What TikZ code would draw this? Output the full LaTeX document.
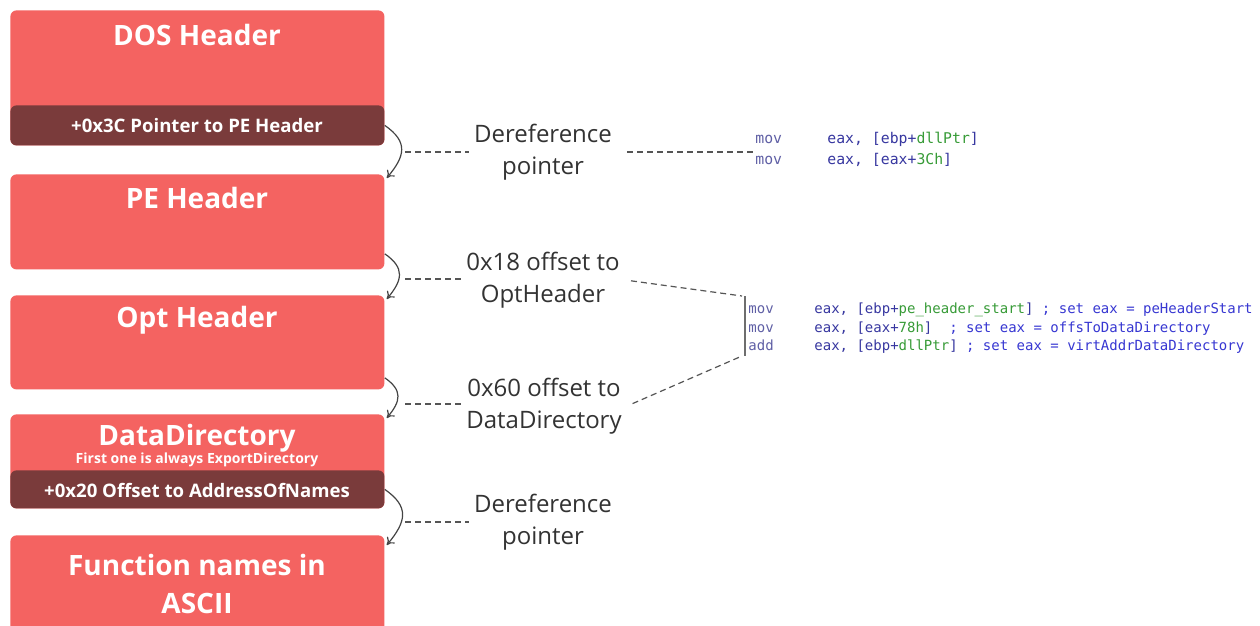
\documentclass[tikz,border=0pt]{standalone}
\usepackage{fontspec}
\setmainfont{Open Sans}
\newfontfamily\codefont{DejaVu Sans Mono}
\usetikzlibrary{arrows.meta}
\definecolor{boxred}{RGB}{244,99,97}
\definecolor{banddark}{RGB}{122,59,59}
\definecolor{lbltext}{RGB}{51,51,51}
\definecolor{dashgray}{RGB}{85,85,85}
\definecolor{arrgray}{RGB}{68,68,68}
\definecolor{mnem}{RGB}{95,95,165}
\definecolor{oper}{RGB}{55,55,160}
\definecolor{gname}{RGB}{55,155,55}
\definecolor{cmt}{RGB}{55,55,210}
\definecolor{barc}{RGB}{110,110,110}
\begin{document}
\begin{tikzpicture}[x=0.5pt,y=-0.5pt,
  redbox/.style={fill=boxred,rounded corners=3pt,anchor=north west,minimum width=187pt,inner sep=0pt,draw=none},
  bandbox/.style={fill=banddark,rounded corners=3pt,anchor=north west,minimum width=187pt,inner sep=0pt,draw=none},
  title/.style={text=white,font=\bfseries\fontsize{14}{19}\selectfont,anchor=base,inner sep=0pt},
  bandtext/.style={text=white,font=\bfseries\fontsize{9.3}{11}\selectfont,anchor=base,inner sep=0pt},
  lbl/.style={text=lbltext,font=\fontsize{12}{16.2}\selectfont,align=center,inner xsep=2.5pt,inner ysep=0pt},
  dashline/.style={draw=dashgray,line width=0.6pt,dash pattern=on 3pt off 2pt},
  curvearrow/.style={draw=arrgray,line width=0.6pt,-{To[length=3.5pt,width=5pt]}},
  codeline/.style={anchor=base west,inner sep=0pt}
]
\path[clip] (0,0) rectangle (1260,626);
\fill[white] (0,0) rectangle (1260,626);

% boxes
\node[redbox,minimum height=67.5pt] (dos) at (10,10) {};
\node[bandbox,minimum height=20pt] (dosband) at (10,105) {};
\node[redbox,minimum height=47.5pt] (pe) at (10,174) {};
\node[redbox,minimum height=47pt] (opt) at (10,295) {};
\node[redbox,minimum height=47pt] (dd) at (10,414) {};
\node[bandbox,minimum height=19pt] (ddband) at (10,470) {};
\node[redbox,minimum height=55pt] (fn) at (10,535) {};

% box texts
\node[title] (dost) at (197,46) {DOS Header};
\node[bandtext] (dosbt) at (197,133) {+0x3C Pointer to PE Header};
\node[title] (pet) at (197,209) {PE Header};
\node[title] (optt) at (197,328) {Opt Header};
\node[title] (ddt) at (197,445) {DataDirectory};
\node[text=white,font=\bfseries\fontsize{7}{8}\selectfont,anchor=base,inner sep=0pt] (ddsub) at (197,463) {First one is always ExportDirectory};
\node[bandtext] (ddbt) at (197,497) {+0x20 Offset to AddressOfNames};
\node[text=white,font=\bfseries\fontsize{14}{19}\selectfont,align=center,inner sep=0pt] (fnt) at (197,584) {Function names in\\ASCII};

% curved arrows
\draw[curvearrow] (dosband.east) to[out=-35,in=50,looseness=1.4] ([xshift=1pt,yshift=-2pt]pe.north east);
\draw[curvearrow] ([yshift=8pt]pe.south east) to[out=-35,in=50,looseness=1.4] ([xshift=1pt,yshift=-2pt]opt.north east);
\draw[curvearrow] ([yshift=6pt]opt.south east) to[out=-35,in=50,looseness=1.4] ([xshift=1pt,yshift=-2pt]dd.north east);
\draw[curvearrow] (ddband.east) to[out=-35,in=50,looseness=1.4] ([xshift=1pt,yshift=-5pt]fn.north east);

% labels
\node[lbl] (l1) at (543,152) {Dereference\\pointer};
\node[lbl] (l2) at (543,280) {0x18 offset to\\OptHeader};
\node[lbl] (l3) at (544,406) {0x60 offset to\\DataDirectory};
\node[lbl] (l4) at (543,522) {Dereference\\pointer};

\coordinate (a1) at (405,152);
\coordinate (a2) at (405,279);
\coordinate (a3) at (405,404);
\coordinate (a4) at (405,522);
\draw[dashline] (a1) -- (a1 -| l1.west);
\draw[dashline] (a2) -- (a2 -| l2.west);
\draw[dashline] (a3) -- (a3 -| l3.west);
\draw[dashline] (a4) -- (a4 -| l4.west);

% code block 1
\node[codeline,font=\codefont\fontsize{7.4}{10.5}\selectfont] (code1) at (755,144) {%
\begin{tabular}[t]{@{}l@{}}
\makebox[36pt][l]{\textcolor{mnem}{mov}}\textcolor{oper}{eax, [ebp+}\textcolor{gname}{dllPtr}\textcolor{oper}{]}\\
\makebox[36pt][l]{\textcolor{mnem}{mov}}\textcolor{oper}{eax, [eax+}\textcolor{gname}{3Ch}\textcolor{oper}{]}
\end{tabular}};

% code block 2
\coordinate (bartop) at (745,296);
\coordinate (barbot) at (745,356);
\draw[barc,line width=1pt] (bartop) -- (barbot);
\node[codeline,font=\codefont\fontsize{7}{9.25}\selectfont] (code2) at (748,314) {%
\begin{tabular}[t]{@{}l@{}}
\makebox[33pt][l]{\textcolor{mnem}{mov}}\textcolor{oper}{eax, [ebp+}\textcolor{gname}{pe\_header\_start}\textcolor{oper}{]} \textcolor{cmt}{; set eax = peHeaderStart}\\
\makebox[33pt][l]{\textcolor{mnem}{mov}}\textcolor{oper}{eax, [eax+}\textcolor{gname}{78h}\textcolor{oper}{]}\ \ \textcolor{cmt}{; set eax = offsToDataDirectory}\\
\makebox[33pt][l]{\textcolor{mnem}{add}}\textcolor{oper}{eax, [ebp+}\textcolor{gname}{dllPtr}\textcolor{oper}{]} \textcolor{cmt}{; set eax = virtAddrDataDirectory}
\end{tabular}};

% right-hand dashed lines
\draw[dashline,shorten <=5pt] (l1.east) -- (l1.east -| code1.west);
\draw[dashline,shorten <=3pt] (l2.east) -- ([xshift=-1.5pt,yshift=0pt]bartop);
\draw[dashline,shorten <=3pt] (l3.east) -- ([xshift=-1.5pt]barbot);
\end{tikzpicture}
\end{document}
